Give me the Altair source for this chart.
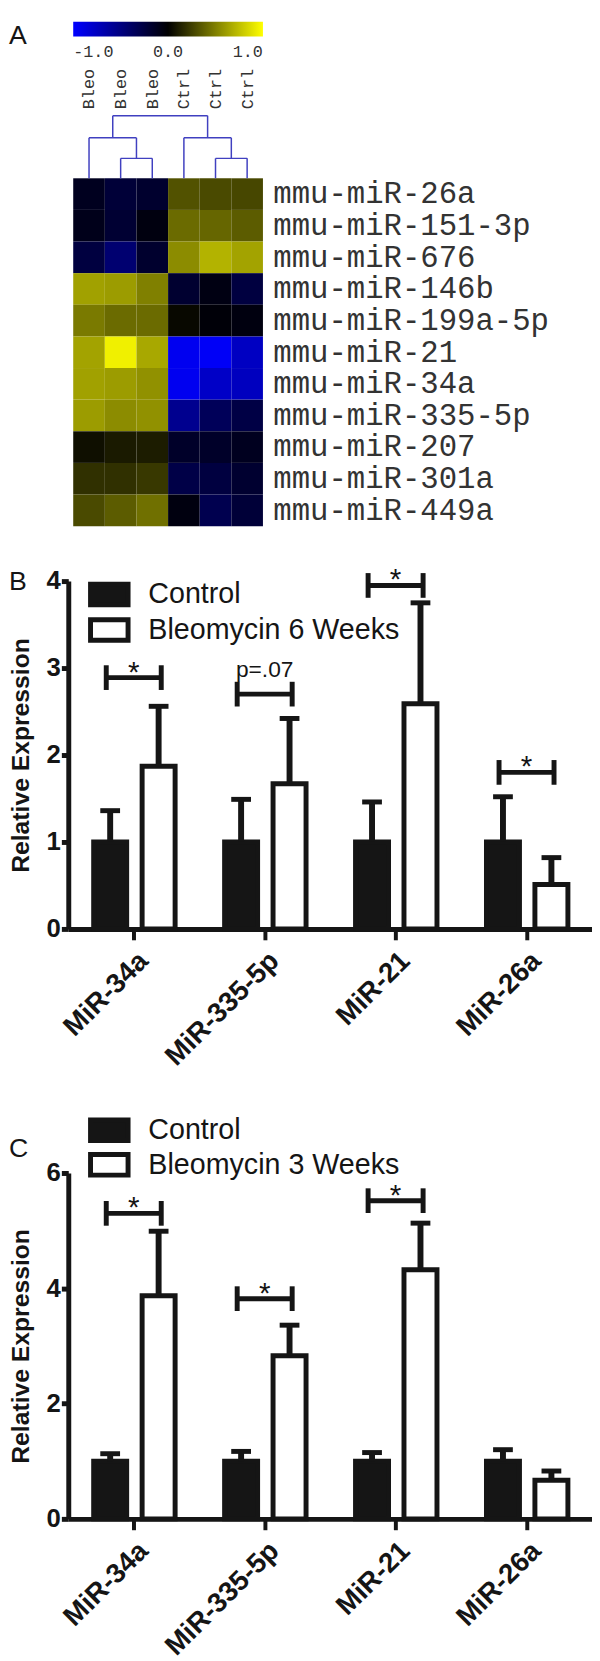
import json
import altair as alt
import pandas as pd

# ---------------- Panel A : heatmap ----------------
sample_names = ["Bleo", "Bleo", "Bleo", "Ctrl", "Ctrl", "Ctrl"]
gene_names = ["mmu-miR-26a", "mmu-miR-151-3p", "mmu-miR-676", "mmu-miR-146b",
              "mmu-miR-199a-5p", "mmu-miR-21", "mmu-miR-34a", "mmu-miR-335-5p",
              "mmu-miR-207", "mmu-miR-301a", "mmu-miR-449a"]
heat_rows = [
    [-0.12, -0.22, -0.18, 0.32, 0.29, 0.28],
    [-0.10, -0.20, -0.06, 0.42, 0.40, 0.36],
    [-0.25, -0.44, -0.18, 0.55, 0.70, 0.64],
    [0.63, 0.61, 0.50, -0.19, -0.07, -0.25],
    [0.48, 0.42, 0.42, 0.03, -0.03, -0.06],
    [0.64, 0.94, 0.66, -0.94, -0.97, -0.76],
    [0.63, 0.61, 0.57, -0.94, -0.78, -0.75],
    [0.61, 0.55, 0.57, -0.56, -0.35, -0.27],
    [0.06, 0.10, 0.11, -0.16, -0.16, -0.12],
    [0.19, 0.19, 0.22, -0.28, -0.25, -0.19],
    [0.29, 0.36, 0.44, -0.06, -0.31, -0.22],
]
colorbar_ticks = [-1.0, 0.0, 1.0]
# dendrogram merges: (left child, right child, merge height); leaves are column indices
dendro_merges = [(1, 2, 0.63), (0, "m0", 1.28), (4, 5, 0.63), (3, "m2", 1.28), ("m1", "m3", 1.98)]

# ---------------- Panels B and C : bar charts ----------------
mir_names = ["MiR-34a", "MiR-335-5p", "MiR-21", "MiR-26a"]

b_groups = ["Control", "Bleomycin 6 Weeks"]
b_ctrl_mean = [1.0, 1.0, 1.0, 1.0]
b_ctrl_err = [0.36, 0.49, 0.46, 0.52]
b_trt_mean = [1.87, 1.67, 2.59, 0.51]
b_trt_err = [0.69, 0.75, 1.16, 0.31]
b_sig_level = [2.89, 2.70, 3.95, 1.80]
b_sig_text = ["*", "p=.07", "*", "*"]

c_groups = ["Control", "Bleomycin 3 Weeks"]
c_ctrl_mean = [1.0, 1.0, 1.0, 1.0]
c_ctrl_err = [0.13, 0.17, 0.15, 0.20]
c_trt_mean = [3.87, 2.83, 4.32, 0.67]
c_trt_err = [1.12, 0.53, 0.81, 0.16]
c_sig_level = [5.30, 3.82, 5.52, None]
c_sig_text = ["*", "*", "*", ""]

INK = "#151515"
SANS = "Liberation Sans"
MONO = "Liberation Mono"

# ---------- heatmap chart ----------
cells = []
for r, g in enumerate(gene_names):
    for c, s in enumerate(sample_names):
        cells.append(dict(gene=g, sample=s, x=c, x2=c + 1, y=r, y2=r + 1, value=heat_rows[r][c]))
cells_df = pd.DataFrame(cells)

pos = {i: i + 0.5 for i in range(len(sample_names))}
hgt = {i: 0.0 for i in range(len(sample_names))}
segs = []
for k, (a, b, h) in enumerate(dendro_merges):
    xa, xb = pos[a], pos[b]
    segs.append(dict(x=xa, x2=xa, y=-hgt[a], y2=-h))
    segs.append(dict(x=xb, x2=xb, y=-hgt[b], y2=-h))
    segs.append(dict(x=xa, x2=xb, y=-h, y2=-h))
    pos[f"m{k}"] = (xa + xb) / 2
    hgt[f"m{k}"] = h
seg_df = pd.DataFrame(segs)

top_h = max(h for _, _, h in dendro_merges)
CELL = 32
LEFT_EXTRA = 5 / CELL
hx_scale = alt.Scale(domain=[-LEFT_EXTRA, len(sample_names)], nice=False, zero=False)
hy_scale = alt.Scale(domain=[-top_h, len(gene_names)], nice=False, zero=False, reverse=True)
hx_axis = alt.Axis(orient="top", values=[c + 0.5 for c in range(len(sample_names))],
                   labelExpr=f"{json.dumps(sample_names)}[floor(datum.value)]",
                   labelAngle=-90, labelAlign="left", labelBaseline="middle",
                   labelFont=MONO, labelFontSize=17, labelColor="#333333", labelPadding=7,
                   ticks=False, domain=False, grid=False, title=None, labelOverlap=False)
hy_axis = alt.Axis(orient="right", values=[r + 0.5 for r in range(len(gene_names))],
                   labelExpr=f"{json.dumps(gene_names)}[floor(datum.value)]",
                   labelAlign="left", labelBaseline="middle",
                   labelFont=MONO, labelFontSize=31, labelColor="#333333", labelPadding=10,
                   labelLimit=400, ticks=False, domain=False, grid=False, title=None,
                   labelOverlap=False)


def HX(f):
    return alt.X(f, type="quantitative", scale=hx_scale, axis=hx_axis)


def HY(f):
    return alt.Y(f, type="quantitative", scale=hy_scale, axis=hy_axis)


heat_cells = alt.Chart(cells_df).mark_rect().encode(
    x=HX("x"), x2="x2", y=HY("y"), y2="y2",
    color=alt.Color("value:Q",
                    scale=alt.Scale(domain=[-1, 0, 1], range=["#0000ff", "#000000", "#ffff00"],
                                    interpolate="rgb"),
                    legend=alt.Legend(orient="none", legendX=LEFT_EXTRA * CELL, legendY=-95,
                                      direction="horizontal", title=None,
                                      gradientLength=len(sample_names) * CELL,
                                      gradientThickness=15, gradientStrokeWidth=0,
                                      values=colorbar_ticks,
                                      labelExpr="replace(format(datum.value, '.1f'), '\u2212', '-')",
                                      labelFont=MONO, labelFontSize=17, labelColor="#333333",
                                      labelOffset=8, padding=0, labelOverlap=False)),
)
dendro = alt.Chart(seg_df).mark_rule(color="#4040c0", strokeWidth=1.5).encode(
    x=HX("x"), x2="x2", y=HY("y"), y2="y2")
letter_a = alt.Chart(pd.DataFrame({"t": ["A"]})).mark_text(
    align="left", baseline="top", font=SANS, fontSize=27, color=INK
).encode(text="t:N", x=alt.value(-60), y=alt.value(-94))

heat = alt.layer(heat_cells, dendro, letter_a).properties(
    width=len(sample_names) * CELL + 5, height=round((len(gene_names) + top_h) * CELL, 1))

# ---------- bar panels ----------
OFF_CTRL, OFF_TRT, HALF, BR = -0.18, 0.19, 0.126, 0.21
RECT_PATH = "M-1,-0.55L1,-0.55L1,0.55L-1,0.55Z"


def bar_panel(letter, groups, ctrl_mean, ctrl_err, trt_mean, trt_err, sig_level, sig_text,
              ymax, yvalues, height, legend_x, legend_y, row_h, legpad, letter_y):
    rows = []
    for i, cat in enumerate(mir_names):
        for g, m, e, off in [(groups[0], ctrl_mean[i], ctrl_err[i], OFF_CTRL),
                             (groups[1], trt_mean[i], trt_err[i], OFF_TRT)]:
            xc = i + 1 + off
            rows.append(dict(cat=cat, group=g, xc=xc, xl=xc - HALF, xr=xc + HALF,
                             mean=m, top=m + e, base=0.0))
    df = pd.DataFrame(rows)
    sig = [dict(xc=i + 1, xl=i + 1 - BR, xr=i + 1 + BR, level=lv, label=t)
           for i, (lv, t) in enumerate(zip(sig_level, sig_text)) if lv is not None]
    sig_df = pd.DataFrame(sig)
    ends_df = pd.concat([sig_df.assign(xe=sig_df.xl), sig_df.assign(xe=sig_df.xr)])

    xs = alt.Scale(domain=[0.5, 4.5], nice=False, zero=False)
    ys = alt.Scale(domain=[0, ymax], nice=False, zero=True)
    xa = alt.Axis(values=[1, 2, 3, 4], labelExpr=f"{json.dumps(mir_names)}[round(datum.value) - 1]",
                  labelAngle=-45, labelAlign="right", labelBaseline="top",
                  labelFont=SANS, labelFontWeight="bold", labelFontSize=28, labelColor=INK,
                  labelPadding=7, tickSize=11, tickWidth=4, tickColor=INK,
                  domainWidth=5, domainColor=INK, grid=False, title=None, labelOverlap=False)
    ya = alt.Axis(values=yvalues, format="d", labelFont=SANS, labelFontWeight="bold",
                  labelFontSize=26, labelColor=INK, labelPadding=1, tickSize=7, tickWidth=5,
                  tickColor=INK, domainWidth=5, domainColor=INK, grid=False,
                  title="Relative Expression", titleFont=SANS, titleFontSize=25,
                  titleFontWeight="bold", titleColor=INK, titlePadding=13, labelOverlap=False)

    def X(f):
        return alt.X(f, type="quantitative", scale=xs, axis=xa)

    def Y(f):
        return alt.Y(f, type="quantitative", scale=ys, axis=ya)

    leg = alt.Legend(orient="none", legendX=legend_x, legendY=legend_y, title=None,
                     symbolType=RECT_PATH, symbolSize=1444, symbolStrokeColor=INK,
                     symbolStrokeWidth=5, labelFont=SANS, labelFontSize=29, labelColor=INK,
                     labelOffset=18, rowPadding=0, clipHeight=row_h, padding=legpad,
                     labelLimit=500)
    bars = alt.Chart(df).mark_rect(stroke=INK, strokeWidth=5).encode(
        x=X("xl"), x2="xr", y=Y("mean"), y2="base",
        fill=alt.Fill("group:N", scale=alt.Scale(domain=groups, range=[INK, "white"]), legend=leg))
    stems = alt.Chart(df).mark_rule(color=INK, strokeWidth=6).encode(x=X("xc"), y=Y("mean"), y2="top")
    caps = alt.Chart(df).mark_tick(color=INK, orient="horizontal", size=20, thickness=5,
                                   opacity=1).encode(x=X("xc"), y=Y("top"))
    br = alt.Chart(sig_df).mark_rule(color=INK, strokeWidth=5).encode(x=X("xl"), x2="xr", y=Y("level"))
    ends = alt.Chart(ends_df).mark_tick(color=INK, orient="vertical", size=25, thickness=5,
                                        opacity=1).encode(x=X("xe"), y=Y("level"))
    stars = alt.Chart(sig_df).transform_filter("datum.label == '*'").mark_text(
        font=SANS, fontSize=30, dy=4, baseline="alphabetic", color=INK
    ).encode(x=X("xc"), y=Y("level"), text="label:N")
    ptext = alt.Chart(sig_df).transform_filter("datum.label != '*'").mark_text(
        font=SANS, fontSize=23, dy=-17, baseline="alphabetic", color=INK
    ).encode(x=X("xc"), y=Y("level"), text="label:N")
    let = alt.Chart(pd.DataFrame({"t": [letter]})).mark_text(
        align="left", baseline="top", font=SANS, fontSize=27, color=INK
    ).encode(text="t:N", x=alt.value(-60), y=alt.value(letter_y))
    return alt.layer(bars, stems, caps, br, ends, stars, ptext, let).properties(width=530, height=height)


chart_b = bar_panel("B", b_groups, b_ctrl_mean, b_ctrl_err, b_trt_mean, b_trt_err,
                    b_sig_level, b_sig_text, 4, [0, 1, 2, 3, 4], 352, 20, -4.5, 36, 0, -12)
chart_c = bar_panel("C", c_groups, c_ctrl_mean, c_ctrl_err, c_trt_mean, c_trt_err,
                    c_sig_level, c_sig_text, 6, [0, 2, 4, 6], 350, 17.25, -63.3, 34.5, 2.75, -37)

chart = alt.vconcat(heat, chart_b, chart_c, spacing=39).resolve_scale(
    fill="independent", color="independent"
).resolve_legend(fill="independent", color="independent").properties(
    padding={"top": 4, "left": 0, "right": 0, "bottom": 0}
).configure_view(strokeWidth=0)

chart.save("out.html", embed_options={"renderer": "svg", "actions": False})
